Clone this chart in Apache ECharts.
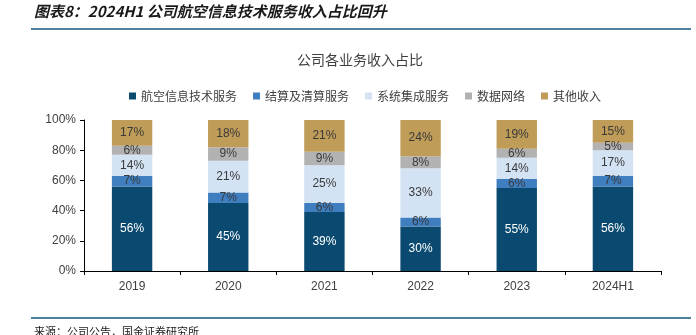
<!DOCTYPE html>
<html><head><meta charset="utf-8">
<script src="https://cdn.jsdelivr.net/npm/echarts@6/dist/echarts.min.js"></script>
<style>html,body{margin:0;padding:0;background:#fff}#c{width:696px;height:335px}</style>
</head><body><div id="c"></div>
<script>
const categories = ['2019','2020','2021','2022','2023','2024H1'];
const seriesNames = ['航空信息技术服务','结算及清算服务','系统集成服务','数据网络','其他收入'];
const aviation = [56, 45, 39, 29.5, 55, 56];
const settlement = [7, 7, 6, 6, 6, 7];
const integration = [14, 21, 25, 32.5, 14, 17];
const network = [6, 9, 9, 8, 6, 5];
const other = [17, 18, 21, 24, 19, 15];
const yTicks = [0, 20, 40, 60, 80, 100];

const colors = ['#0a4a70', '#3f7fc0', '#d3e3f3', '#b2b2b2', '#bf9c57'];
const labelColors = ['#ffffff', '#3a3a3a', '#3a3a3a', '#3a3a3a', '#3a3a3a'];
const allData = [aviation, settlement, integration, network, other];
const font = '"Liberation Sans", Arial, sans-serif';
const cjk = '"Noto Sans CJK SC", sans-serif';

const chart = echarts.init(document.getElementById('c'));
chart.setOption({
  animation: false,
  title: {
    text: '公司各业务收入占比', left: 292, top: 48,
    textStyle: { fontFamily: cjk, fontSize: 14, fontWeight: 'normal', color: '#404040' }
  },
  legend: {
    data: seriesNames, top: 85, left: 124, itemWidth: 7, itemHeight: 7, itemGap: 16,
    icon: 'rect',
    textStyle: { fontFamily: cjk, fontSize: 12, color: '#404040' }
  },
  grid: { left: 84, right: 35, top: 120, bottom: 64 },
  xAxis: {
    type: 'category', data: categories,
    axisLine: { lineStyle: { color: '#000', width: 1 } },
    axisTick: { show: true, length: 4, alignWithLabel: false, lineStyle: { color: '#000' } },
    axisLabel: { fontFamily: font, fontSize: 12, color: '#404040', margin: 10 }
  },
  yAxis: {
    type: 'value', min: 0, max: 100, interval: 20,
    axisLine: { show: true, lineStyle: { color: '#000', width: 1 } },
    axisTick: { show: true, length: 4, inside: false, lineStyle: { color: '#000' } },
    splitLine: { show: false },
    axisLabel: { fontFamily: font, fontSize: 12, color: '#404040', margin: 8,
      formatter: v => yTicks.includes(v) ? v + '%' : '' }
  },
  series: allData.map((d, i) => ({
    name: seriesNames[i], type: 'bar', stack: 'total', data: d, barWidth: '42%',
    itemStyle: { color: colors[i] },
    label: {
      show: true, position: 'inside', fontFamily: font, fontSize: 12, color: labelColors[i],
      formatter: p => Math.round(p.value) + '%'
    }
  })),
  graphic: [
    { type: 'text', left: 34, top: 4,
      style: { text: '图表8：2024H1 公司航空信息技术服务收入占比回升', fontFamily: cjk, fontSize: 15,
        fontWeight: 'bold', fontStyle: 'italic', fill: '#1a1a1a' } },
    { type: 'rect', shape: { x: 31, y: 28, width: 660, height: 2 }, style: { fill: '#4f819c' } },
    { type: 'rect', shape: { x: 31, y: 317, width: 660, height: 2 }, style: { fill: '#4f819c' } },
    { type: 'text', left: 34, top: 326,
      style: { text: '来源：公司公告，国金证券研究所', fontFamily: cjk, fontSize: 11, fill: '#1a1a1a' } }
  ]
});
</script></body></html>
